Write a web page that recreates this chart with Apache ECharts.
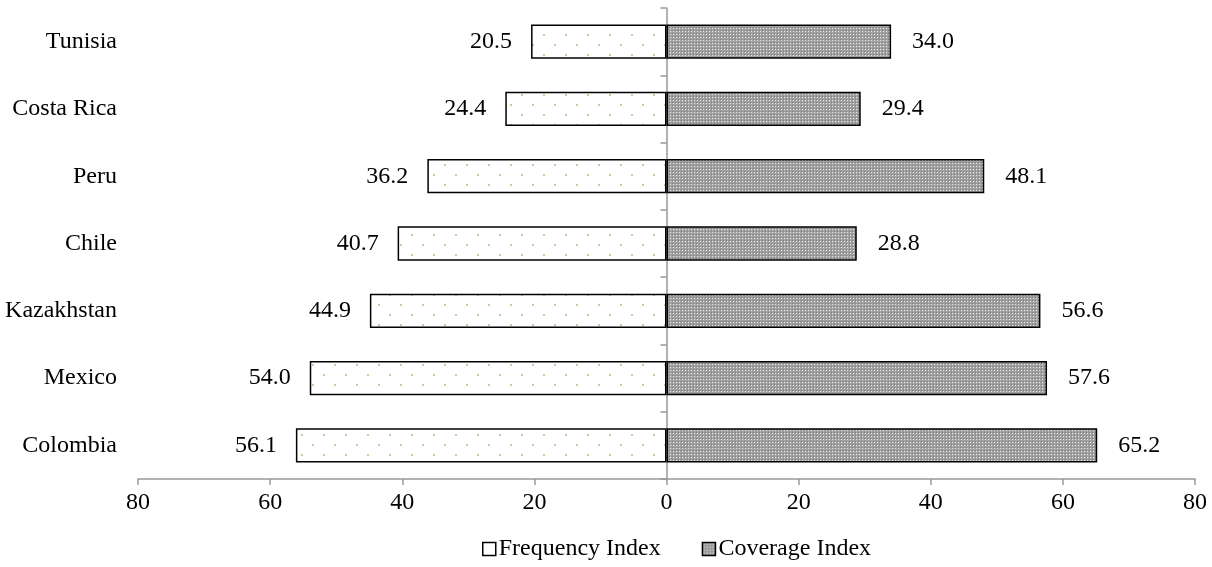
<!DOCTYPE html>
<html>
<head>
<meta charset="utf-8">
<script src="https://cdn.jsdelivr.net/npm/echarts@6/dist/echarts.min.js"></script>
<style>html,body{margin:0;padding:0;background:#fff}#c{width:1212px;height:567px}</style>
</head>
<body>
<div id="c"></div>
<script>
const categories = ['Colombia', 'Mexico', 'Kazakhstan', 'Chile', 'Peru', 'Costa Rica', 'Tunisia'];
const frequencyIndex = [56.1, 54.0, 44.9, 40.7, 36.2, 24.4, 20.5];
const coverageIndex = [65.2, 57.6, 56.6, 28.8, 48.1, 29.4, 34.0];
const seriesNames = ['Frequency Index', 'Coverage Index'];
const xTicks = { min: -80, max: 80, interval: 20 };

function dotPattern() {
  const c = document.createElement('canvas');
  c.width = 22; c.height = 20;
  const g = c.getContext('2d');
  g.fillStyle = '#ffffff'; g.fillRect(0, 0, 22, 20);
  g.fillStyle = '#cfc79a';
  g.fillRect(4, 4, 2, 2);
  g.fillRect(15, 14, 2, 2);
  return c;
}
function checkPattern() {
  const c = document.createElement('canvas');
  c.width = 3; c.height = 3;
  const g = c.getContext('2d');
  g.fillStyle = '#a0a0a0'; g.fillRect(0, 0, 3, 3);
  g.fillStyle = '#eaeaea'; g.fillRect(1, 1, 1, 1);
  g.fillStyle = '#7c7c7c'; g.fillRect(0, 0, 1, 1);
  return c;
}
const dotFill = { image: dotPattern(), repeat: 'repeat' };
const checkFill = { image: checkPattern(), repeat: 'repeat' };
const font = '"Liberation Serif", "Times New Roman", serif';
const fs = 24;

const chart = echarts.init(document.getElementById('c'));
chart.setOption({
  animation: false,
  textStyle: { fontFamily: font },
  grid: { left: 138, right: 17, top: 8, bottom: 88, containLabel: false, outerBoundsMode: 'none' },
  legend: {
    top: 532, left: 477, itemWidth: 13, itemHeight: 13, itemGap: 41,
    textStyle: { fontFamily: font, fontSize: fs, color: '#000', padding: [0, 0, 0, -2] },
    data: [
      { name: seriesNames[0], icon: 'rect', itemStyle: { color: '#fff', borderColor: '#000', borderWidth: 1.5 } },
      { name: seriesNames[1], icon: 'rect', itemStyle: { color: checkFill, borderColor: '#000', borderWidth: 1.5 } }
    ]
  },
  xAxis: {
    type: 'value', min: xTicks.min, max: xTicks.max, interval: xTicks.interval,
    splitLine: { show: false },
    axisLine: { show: true, lineStyle: { color: '#999', width: 1.5 } },
    axisTick: { show: true, length: 6, lineStyle: { color: '#999', width: 1.5 } },
    axisLabel: { formatter: v => Math.abs(v), fontSize: fs, color: '#000', fontFamily: font, margin: 12 }
  },
  yAxis: [
    {
      type: 'category', data: categories,
      axisLine: { show: true, onZero: true, lineStyle: { color: '#999', width: 1.5 } },
      axisTick: { show: true, length: 6, lineStyle: { color: '#999', width: 1.5 } },
      axisLabel: { show: false }
    },
    {
      type: 'category', data: categories, position: 'left',
      axisLine: { show: false, onZero: false },
      axisTick: { show: false },
      axisLabel: { show: true, fontSize: fs, color: '#000', fontFamily: font, margin: 21 }
    }
  ],
  series: [
    {
      name: seriesNames[0], type: 'bar', stack: 'a',
      data: frequencyIndex.map(v => -v),
      barWidth: '51%',
      itemStyle: { color: dotFill, borderColor: '#000', borderWidth: 1.5 },
      label: { show: true, position: 'left', distance: 19, formatter: p => Math.abs(p.value).toFixed(1), fontSize: fs, color: '#000', fontFamily: font }
    },
    {
      name: seriesNames[1], type: 'bar', stack: 'a',
      data: coverageIndex,
      barWidth: '51%',
      itemStyle: { color: checkFill, borderColor: '#000', borderWidth: 1.5 },
      label: { show: true, position: 'right', distance: 21, formatter: p => p.value.toFixed(1), fontSize: fs, color: '#000', fontFamily: font }
    }
  ]
});
</script>
</body>
</html>
